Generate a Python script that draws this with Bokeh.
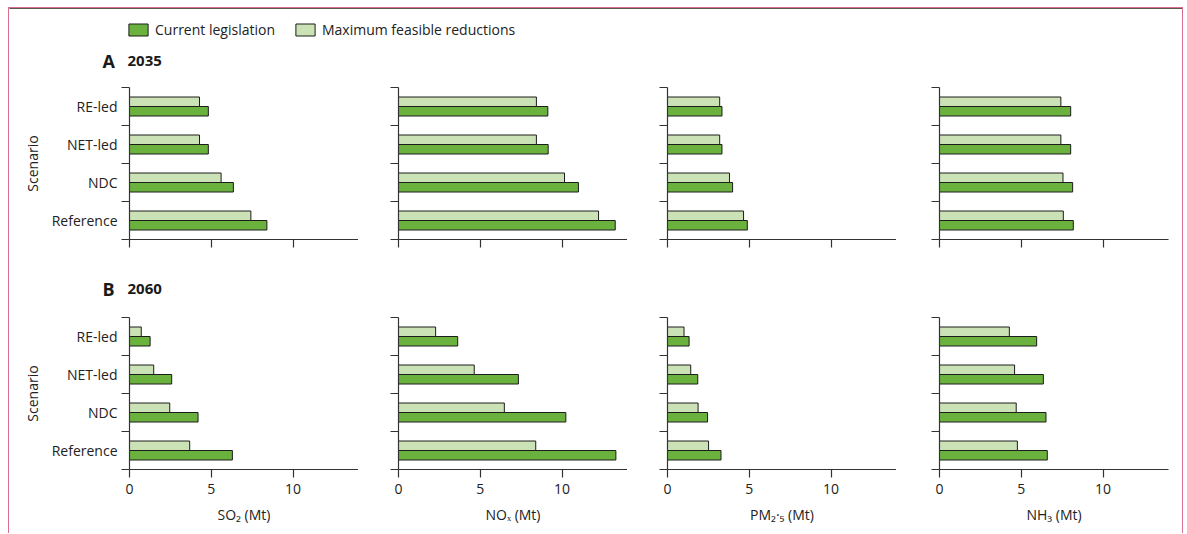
from bokeh.plotting import figure
from bokeh.layouts import column, row
from bokeh.models import FixedTicker, Legend, LegendItem, Label, Range1d
from bokeh.embed import file_html
from bokeh.resources import INLINE

# ---------------- data ----------------
scenarios = ["Reference", "NDC", "NET-led", "RE-led"]          # bottom -> top
pollutant_labels = ["SO₂ (Mt)", "NOₓ (Mt)", "PM₂·₅ (Mt)", "NH₃ (Mt)"]
series_names = ["Current legislation", "Maximum feasible reductions"]
x_ticks = [0, 5, 10]

# 2035 (order: Reference, NDC, NET-led, RE-led)
so2_2035_cl = [8.40, 6.35, 4.82, 4.82]
so2_2035_mfr = [7.42, 5.60, 4.28, 4.28]
nox_2035_cl = [13.25, 11.00, 9.15, 9.13]
nox_2035_mfr = [12.23, 10.15, 8.43, 8.43]
pm_2035_cl = [4.88, 3.98, 3.33, 3.33]
pm_2035_mfr = [4.65, 3.79, 3.19, 3.19]
nh3_2035_cl = [8.18, 8.14, 8.02, 8.02]
nh3_2035_mfr = [7.57, 7.55, 7.42, 7.42]

# 2060
so2_2060_cl = [6.29, 4.19, 2.58, 1.26]
so2_2060_mfr = [3.68, 2.46, 1.48, 0.72]
nox_2060_cl = [13.29, 10.23, 7.33, 3.62]
nox_2060_mfr = [8.39, 6.47, 4.63, 2.27]
pm_2060_cl = [3.27, 2.45, 1.85, 1.32]
pm_2060_mfr = [2.51, 1.87, 1.42, 1.01]
nh3_2060_cl = [6.59, 6.51, 6.35, 5.94]
nh3_2060_mfr = [4.76, 4.69, 4.59, 4.27]

# ---------------- style ----------------
FONT = "Open Sans"
DARK = "#6ab23d"
LIGHT = "#cbe2b7"
EDGE = "#1c1c1c"
AXC = "#333333"
TXT = "#222222"

col_left = [120, 40, 40, 43]
col_right = [0, 0, 0, 14]
FRAME_W = 229
FRAME_H = 152


def panel(cl, mfr, ci, bottom_row, xlabel):
    top, bot = (5, 30) if not bottom_row else (5, 64)
    p = figure(width=col_left[ci] + FRAME_W + col_right[ci], height=top + FRAME_H + bot,
               x_range=Range1d(0, 14), y_range=Range1d(0, 4),
               toolbar_location=None, output_backend="svg",
               min_border_left=col_left[ci], min_border_right=col_right[ci],
               min_border_top=top, min_border_bottom=bot)
    ys = [i + 0.5 for i in range(len(scenarios))]
    p.hbar(y=[y - 0.125 for y in ys], left=0, right=cl, height=0.25,
           fill_color=DARK, line_color=EDGE, line_width=1)
    p.hbar(y=[y + 0.125 for y in ys], left=0, right=mfr, height=0.25,
           fill_color=LIGHT, line_color=EDGE, line_width=1)
    p.grid.visible = False
    p.outline_line_color = None
    p.background_fill_color = None
    p.border_fill_color = None

    xa = p.xaxis[0]
    xa.ticker = FixedTicker(ticks=x_ticks, minor_ticks=[])
    xa.major_tick_in = 0
    xa.major_tick_out = 8
    xa.minor_tick_in = 0
    xa.minor_tick_out = 0
    xa.axis_line_color = AXC
    xa.axis_line_width = 1.2
    xa.major_tick_line_color = AXC
    xa.major_tick_line_width = 1.2
    xa.major_label_text_font = FONT
    xa.major_label_text_font_size = "14px"
    xa.major_label_text_color = TXT
    xa.major_label_standoff = 6
    if bottom_row:
        xa.axis_label = xlabel
        xa.axis_label_text_font = FONT
        xa.axis_label_text_font_size = "14px"
        xa.axis_label_text_font_style = "normal"
        xa.axis_label_text_color = TXT
        xa.axis_label_standoff = 8
    else:
        xa.major_label_text_color = None

    ya = p.yaxis[0]
    if ci == 0:
        ya.ticker = FixedTicker(ticks=ys, minor_ticks=[0, 1, 2, 3, 4])
        ya.major_label_overrides = {y: s for y, s in zip(ys, scenarios)}
        ya.axis_label = "Scenario"
        ya.axis_label_text_font = FONT
        ya.axis_label_text_font_size = "14px"
        ya.axis_label_text_font_style = "normal"
        ya.axis_label_text_color = TXT
        ya.axis_label_standoff = 7
    else:
        ya.ticker = FixedTicker(ticks=[], minor_ticks=[0, 1, 2, 3, 4])
    ya.major_tick_in = 0
    ya.major_tick_out = 0
    ya.minor_tick_in = 0
    ya.minor_tick_out = 8
    ya.minor_tick_line_color = AXC
    ya.minor_tick_line_width = 1.2
    ya.axis_line_color = AXC
    ya.axis_line_width = 1.2
    ya.major_label_text_font = FONT
    ya.major_label_text_font_size = "14px"
    ya.major_label_text_color = TXT
    ya.major_label_standoff = 4
    return p


def strip(height, letter, year, base):
    s = figure(width=1173, height=height, x_range=Range1d(0, 1), y_range=Range1d(0, 1),
               toolbar_location=None, output_backend="svg", min_border=0,
               x_axis_type=None, y_axis_type=None)
    s.grid.visible = False
    s.outline_line_color = None
    s.border_fill_color = None
    s.background_fill_color = None
    s.add_layout(Label(x=93, y=base, x_units="screen", y_units="screen", text=letter,
                       text_font=FONT, text_font_size="18px", text_font_style="bold",
                       text_color="#1a1a1a", text_baseline="alphabetic"))
    s.add_layout(Label(x=118, y=base, x_units="screen", y_units="screen", text=year,
                       text_font=FONT, text_font_size="15px", text_font_style="bold",
                       text_color="#1a1a1a", text_baseline="alphabetic"))
    return s


header = strip(74, "A", "2035", 22)
# legend swatches: renderers whose single bar lies outside the visible range
r_cl = header.hbar(y=[10], left=[0], right=[1], height=1, fill_color=DARK, line_color=EDGE, line_width=1)
r_mfr = header.hbar(y=[10], left=[0], right=[1], height=1, fill_color=LIGHT, line_color=EDGE, line_width=1)
legend = Legend(items=[LegendItem(label=series_names[0], renderers=[r_cl]),
                       LegendItem(label=series_names[1], renderers=[r_mfr])],
                orientation="horizontal", location=(117, 43),
                glyph_width=24, glyph_height=15, label_height=15, label_standoff=5,
                spacing=18, padding=0, margin=0, border_line_color=None,
                background_fill_alpha=0, label_text_font=FONT,
                label_text_font_size="14px", label_text_color=TXT)
header.add_layout(legend)

data_a = [(so2_2035_cl, so2_2035_mfr), (nox_2035_cl, nox_2035_mfr),
          (pm_2035_cl, pm_2035_mfr), (nh3_2035_cl, nh3_2035_mfr)]
data_b = [(so2_2060_cl, so2_2060_mfr), (nox_2060_cl, nox_2060_mfr),
          (pm_2060_cl, pm_2060_mfr), (nh3_2060_cl, nh3_2060_mfr)]

row_a = row(*[panel(c, m, i, False, pollutant_labels[i]) for i, (c, m) in enumerate(data_a)])
mid = strip(43, "B", "2060", 24)
row_b = row(*[panel(c, m, i, True, pollutant_labels[i]) for i, (c, m) in enumerate(data_b)])

PINK = "#d7718f"
layout = column(header, row_a, mid, row_b,
                styles={"margin-left": "8px", "margin-top": "7px",
                        "border-left": f"1px solid {PINK}",
                        "border-top": f"1px solid {PINK}",
                        "border-right": f"1px solid {PINK}"})

open("out.html", "w").write(file_html(layout, INLINE))
